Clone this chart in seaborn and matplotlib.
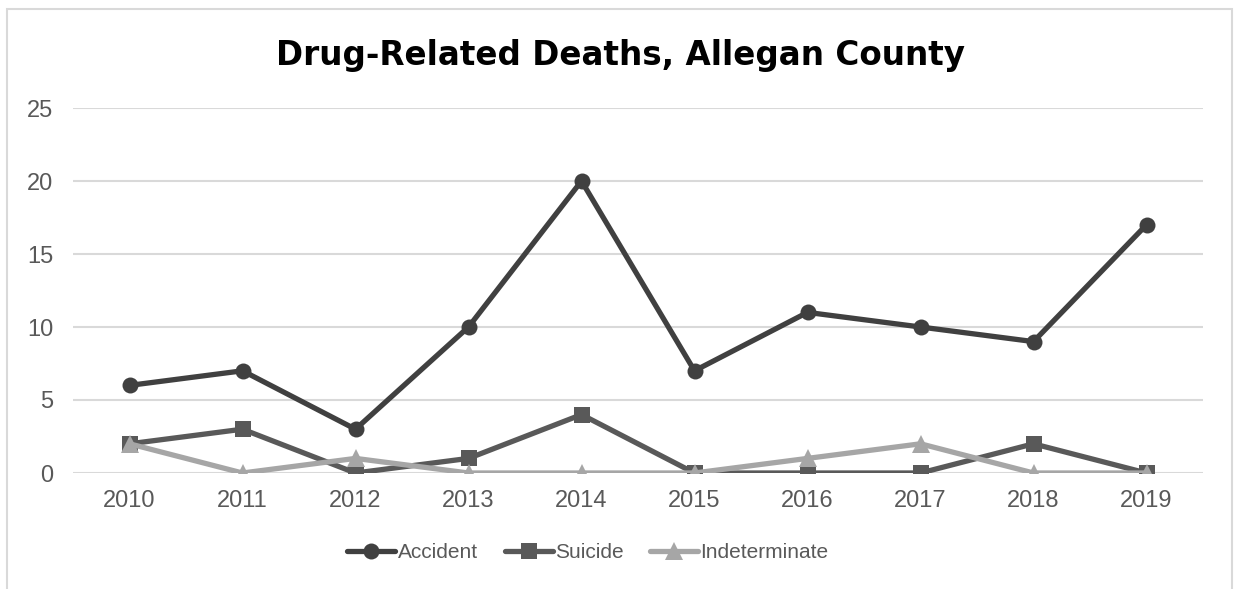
import matplotlib
matplotlib.use("Agg")
import matplotlib.pyplot as plt
import seaborn as sns
import pandas as pd
from matplotlib.patches import Rectangle
from matplotlib.lines import Line2D

years = ["2010", "2011", "2012", "2013", "2014", "2015", "2016", "2017", "2018", "2019"]
accident = [6, 7, 3, 10, 20, 7, 11, 10, 9, 17]
suicide = [2, 3, 0, 1, 4, 0, 0, 0, 2, 0]
indeterminate = [2, 0, 1, 0, 0, 0, 1, 2, 0, 0]
series_names = ["Accident", "Suicide", "Indeterminate"]
title = "Drug-Related Deaths, Allegan County"

sns.set_theme(style="white")
plt.rcParams['font.family'] = ['Liberation Sans', 'DejaVu Sans']

rows = []
for name, vals in zip(series_names, [accident, suicide, indeterminate]):
    for i, (y, v) in enumerate(zip(years, vals)):
        rows.append({"pos": i, "Year": y, "Series": name, "Value": v})
df = pd.DataFrame(rows)

fig = plt.figure(figsize=(12.35, 5.89), dpi=100)
ax = fig.add_axes([73/1235, 1-473/589, (1203-73)/1235, (473-108)/589])

palette = {"Accident": "#404040", "Suicide": "#595959", "Indeterminate": "#a6a6a6"}
markers = {"Accident": "o", "Suicide": "s", "Indeterminate": "^"}
msizes = {"Accident": 11.5, "Suicide": 11, "Indeterminate": 13}
lw = 3.8

for name in series_names:
    sub = df[df["Series"] == name]
    sns.lineplot(data=sub, x="pos", y="Value", color=palette[name], marker=markers[name],
                 linewidth=lw, markersize=msizes[name], markeredgewidth=0, ax=ax,
                 legend=False)

ax.set_xlim(-0.5, 9.5)
ax.set_ylim(0, 25)
ax.set_yticks([0, 5, 10, 15, 20, 25])
ax.set_xticks(range(10))
ax.set_xticklabels(years)
ax.tick_params(axis='both', labelsize=17, colors="#595959", length=0)
ax.tick_params(axis='x', pad=12)
ax.tick_params(axis='y', pad=14)
ax.yaxis.grid(True, color="#d9d9d9", linewidth=1.5)
ax.set_axisbelow(True)
for s in ax.spines.values():
    s.set_visible(False)
ax.set_xlabel("")
ax.set_ylabel("")

fig.text(620/1235, 1-56/589, title, ha="center", va="center",
         fontsize=23.5, fontweight="bold", color="black", family=["DejaVu Sans"])

handles = [Line2D([0], [0], color=palette[n], marker=markers[n], linewidth=lw,
                  markersize=msizes[n], markeredgewidth=0) for n in series_names]
leg = fig.legend(handles, series_names, loc="center", bbox_to_anchor=(588/1235, 1-553/589),
                 ncol=3, frameon=False, fontsize=15, handlelength=2.3, handletextpad=0.1,
                 columnspacing=1.3)
for t in leg.get_texts():
    t.set_color("#595959")

fig.patches.append(Rectangle((7/1235, -0.05), (1232-7)/1235, 1.05-9/589,
                             transform=fig.transFigure, fill=False,
                             edgecolor="#d9d9d9", linewidth=1.5))

fig.savefig("out.png", dpi=100)
